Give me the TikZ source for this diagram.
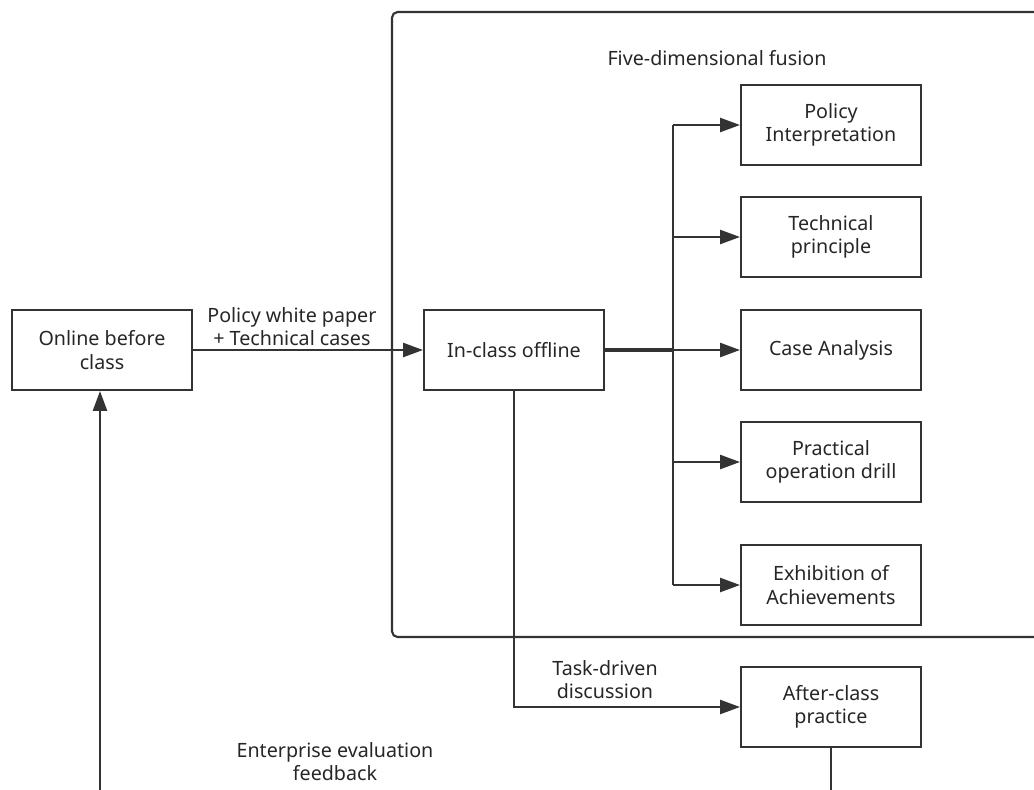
\documentclass[tikz,border=0pt]{standalone}
\usepackage{fontspec}
\setmainfont{Noto Sans}
\usetikzlibrary{arrows.meta}
\begin{document}
\begin{tikzpicture}[x=0.025cm,y=-0.025cm,
  line width=1.3pt,draw=black!80,
  box/.style={rectangle,draw=black!80,line width=1.5pt,minimum width=4.5cm,minimum height=2cm,align=center,font=\fontsize{14}{16.5}\selectfont,text=black!85},
  lbl/.style={align=center,font=\fontsize{14}{16.5}\selectfont,text=black!85},
  arr/.style={-{Triangle[length=14pt,width=10pt]}}]

  \useasboundingbox (0,0) rectangle (1034,790);
  \clip (0,0) rectangle (1034,790);

  % frame of the five dimensions
  \draw[black!80,line width=1.5pt,rounded corners=4pt] (392,12) rectangle (1080,637);
  \node[lbl] (fusion) at (717,58) {Five-dimensional fusion};

  \node[box] (online) at (102,350) {Online before\\class};
  \node[box] (inclass) at (514,350) {In-class offline};
  \node[box] (policy) at (831,125) {Policy\\Interpretation};
  \node[box] (tech) at (831,237) {Technical\\principle};
  \node[box] (case) at (831,350) {Case Analysis};
  \node[box] (drill) at (831,462) {Practical\\operation drill};
  \node[box] (achieve) at (831,585) {Exhibition of\\Achievements};
  \node[box] (after) at (831,707) {After-class\\practice};

  \coordinate (split) at (673,350);
  \coordinate (fbleft) at (100,820);
  \coordinate (fbright) at (831,820);

  \draw[arr] (online.east) -- node[lbl,above,yshift=-1pt,pos=0.43]{Policy white paper\\+ Technical cases} (inclass.west);
  \draw[line width=2.2pt] (inclass.east) -- (split);
  \draw (split |- policy.west) -- (split |- achieve.west);
  \foreach \b in {policy,tech,case,drill,achieve}
    \draw[arr] (split |- \b.west) -- (\b.west);

  \draw[arr] (inclass.south) |- (after.west);
  \node[lbl] (task) at (605,680) {Task-driven\\discussion};

  \draw (after.south) -- (fbright);
  \draw[arr] (fbleft) -- (online.south -| fbleft);
  \node[lbl] (feedback) at (335,762) {Enterprise evaluation\\feedback};
\end{tikzpicture}
\end{document}
